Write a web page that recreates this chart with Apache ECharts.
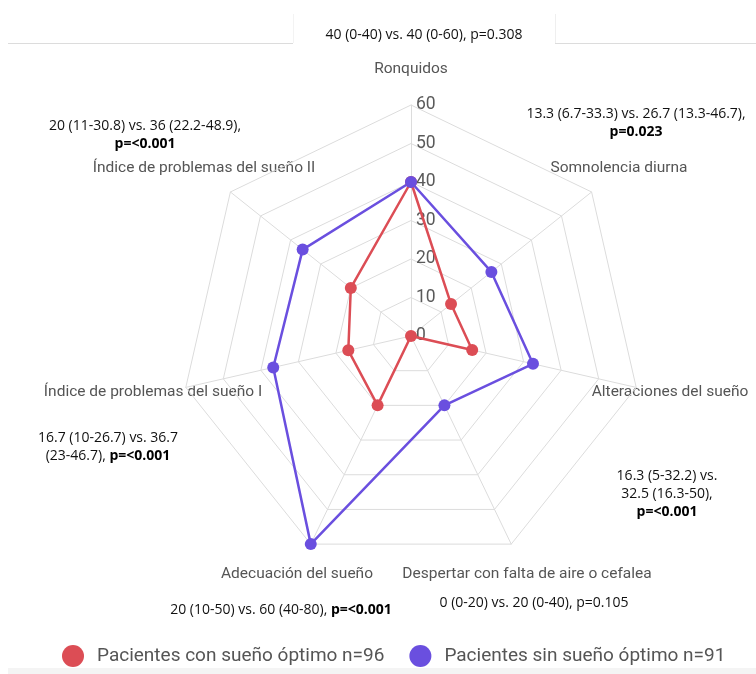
<!DOCTYPE html>
<html><head><meta charset="utf-8">
<script src="https://cdn.jsdelivr.net/npm/echarts@6/dist/echarts.min.js"></script>
<style>html,body{margin:0;padding:0;background:#fff}#c{width:756px;height:674px}</style>
</head><body><div id="c"></div>
<script>
var indicators = ['Ronquidos','Somnolencia diurna','Alteraciones del sueño','Despertar con falta de aire o cefalea','Adecuación del sueño','Índice de problemas del sueño I','Índice de problemas del sueño II'];
var optimo = [40, 13.3, 16.3, 0, 20, 16.7, 20];
var sinOptimo = [40, 26.7, 32.5, 20, 60, 36.7, 36];
var seriesNames = ['Pacientes con sueño óptimo n=96','Pacientes sin sueño óptimo n=91'];
var axisMax = 60;
var annotations = [
  ['40 (0-40) vs. 40 (0-60), p=0.308'],
  ['13.3 (6.7-33.3) vs. 26.7 (13.3-46.7),', '{b|p=0.023}'],
  ['16.3 (5-32.2) vs.', '32.5 (16.3-50),', '{b|p=<0.001}'],
  ['0 (0-20) vs. 20 (0-40), p=0.105'],
  ['20 (10-50) vs. 60 (40-80), {b|p=<0.001}'],
  ['16.7 (10-26.7) vs. 36.7', '(23-46.7), {b|p=<0.001}'],
  ['20 (11-30.8) vs. 36 (22.2-48.9),', '{b|p=<0.001}']
];

// layout (pixel positions of names and annotations)
var namePos = [[411,69],[619,168],[670,392],[527,574],[297,574],[153,392],[204,168]];
var annPos = [[424,35],[636,123],[667,494],[534,603],[281,610],[108,447],[145,135]];

// clockwise order for the radar (ECharts lays indicators out counter-clockwise)
var order = [0,6,5,4,3,2,1];
function reorder(arr){ return order.map(function(k){ return arr[k]; }); }

var red = '#dc4d55', purple = '#6a4fdf';
var annFont = '"Liberation Sans Narrow", "Open Sans", sans-serif';
var graphics = [
  {type:'line', shape:{x1:8,y1:43.5,x2:293,y2:43.5}, style:{stroke:'#dcdcdc',lineWidth:1}, silent:true},
  {type:'line', shape:{x1:555,y1:43.5,x2:756,y2:43.5}, style:{stroke:'#dcdcdc',lineWidth:1}, silent:true},
  {type:'line', shape:{x1:555.5,y1:14,x2:555.5,y2:43}, style:{stroke:'#efefef',lineWidth:1}, silent:true},
  {type:'line', shape:{x1:293.5,y1:14,x2:293.5,y2:43}, style:{stroke:'#f3f3f3',lineWidth:1}, silent:true},
  {type:'rect', shape:{x:8,y:668,width:748,height:6}, style:{fill:'#f4f4f4'}, silent:true}
];
indicators.forEach(function(n,i){
  graphics.push({type:'text', x:namePos[i][0], y:namePos[i][1], silent:true,
    style:{text:n, align:'center', verticalAlign:'middle', fill:'#555', font:'15.5px Roboto'}});
  graphics.push({type:'text', x:annPos[i][0], y:annPos[i][1], silent:true,
    style:{text:annotations[i].join('\n'), align:'center', verticalAlign:'middle', fill:'#111',
      fontFamily:annFont, fontSize:14, lineHeight:18,
      rich:{b:{fontWeight:'bold', fontFamily:annFont, fontSize:14, fill:'#000'}}}});
});

var chart = echarts.init(document.getElementById('c'));
chart.setOption({
  animation:false,
  legend:{
    bottom: 2, left: 57, itemWidth:22, itemHeight:22, itemGap:25, icon:'circle',
    textStyle:{color:'#555', fontSize:19, fontFamily:'Roboto', padding:[0,0,0,8]},
    data: seriesNames
  },
  radar:{
    center:[411,336], radius:231, shape:'polygon', splitNumber:6, startAngle:90,
    indicator: reorder(indicators).map(function(n,i){
      var o = {name:n, min:0, max:axisMax};
      if(i===0){ o.axisLabel = {show:true, color:'#5a5a5a', fontSize:17.5, fontFamily:'Roboto', margin:-5, align:'left'}; }
      return o;
    }),
    axisName:{show:false},
    axisLabel:{show:false},
    axisLine:{lineStyle:{color:'#dcdcdc', width:1}},
    splitLine:{lineStyle:{color:'#dcdcdc', width:1}},
    splitArea:{show:false}
  },
  graphic: graphics,
  series:[{
    type:'radar',
    symbol:'circle', symbolSize:12,
    data:[
      {name:seriesNames[0], value:reorder(optimo), itemStyle:{color:red}, lineStyle:{color:red,width:2.5}},
      {name:seriesNames[1], value:reorder(sinOptimo), itemStyle:{color:purple}, lineStyle:{color:purple,width:2.5}}
    ]
  }]
});
</script></body></html>
